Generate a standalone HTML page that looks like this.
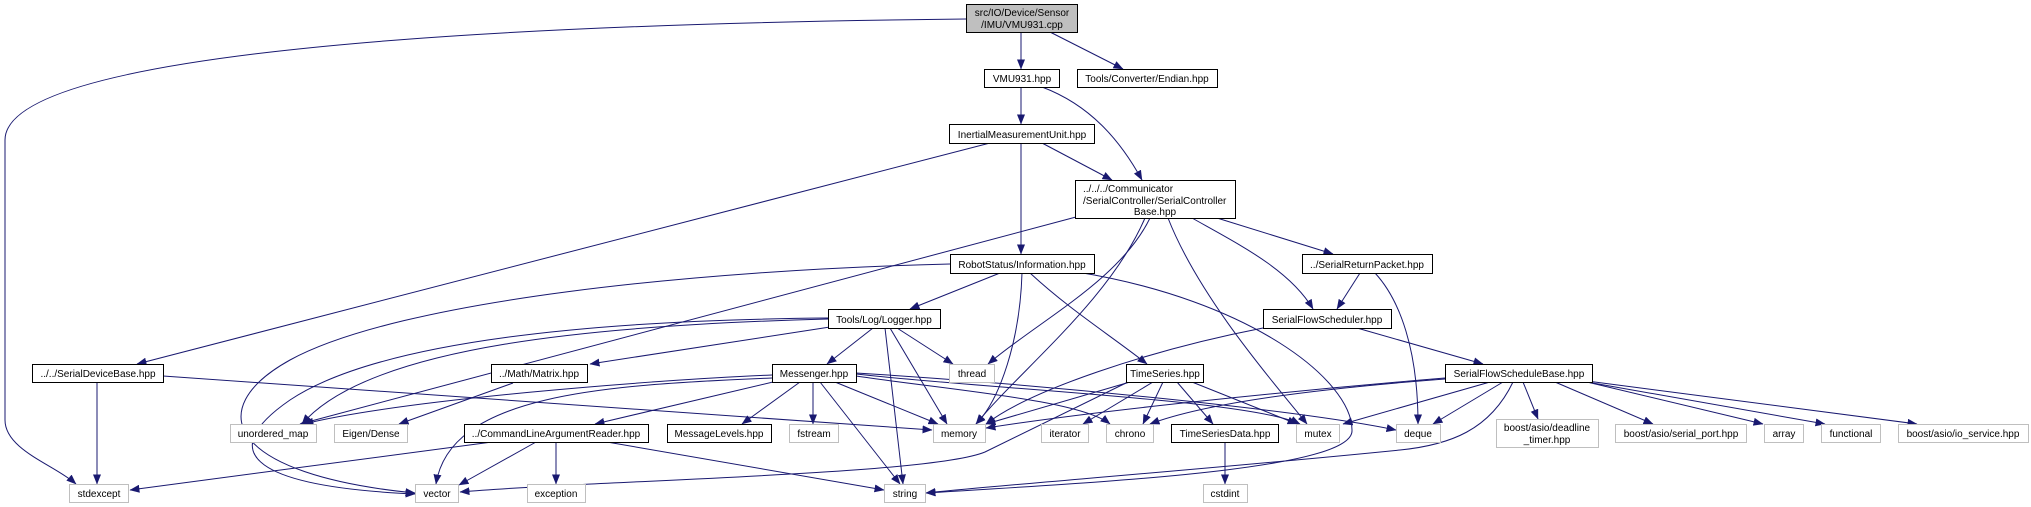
<!DOCTYPE html>
<html><head><meta charset="utf-8"><style>
html,body{margin:0;padding:0;background:#fff;}
svg{display:block;}
text{font-family:"Liberation Sans",Arial,sans-serif;font-size:10px;fill:#000;}
.e{fill:none;stroke:#191970;stroke-width:1;marker-end:url(#a);}
.b{fill:#fff;stroke:#000;stroke-width:1;}
.g{fill:#fff;stroke:#bfbfbf;stroke-width:1;}
</style></head><body>
<svg width="2031" height="507" viewBox="0 0 2031 507" xmlns="http://www.w3.org/2000/svg">
<defs><marker id="a" markerUnits="userSpaceOnUse" markerWidth="10" markerHeight="8" refX="9.5" refY="4" orient="auto"><path d="M0,0 L10,4 L0,8 z" fill="#191970"/></marker></defs>

<!-- edges -->
<path class="e" d="M966,19 C400,25 5,60 5,140 L5,420 C5,450 55,465 76,484"/>
<path class="e" d="M1021,32 L1021,69"/>
<path class="e" d="M1050,32 L1123,69"/>
<path class="e" d="M1021,87 L1021,124"/>
<path class="e" d="M1042,87 C1090,105 1120,140 1142,180"/>
<path class="e" d="M1042,143 L1112,180"/>
<path class="e" d="M1021,143 L1021,254"/>
<path class="e" d="M990,143 L137,364"/>
<path class="e" d="M1076,217 L300,424"/>
<path class="e" d="M1150,218 C1120,280 1040,320 988,364"/>
<path class="e" d="M1145,218 C1110,300 1020,370 976,424"/>
<path class="e" d="M1168,218 C1200,300 1280,390 1307,424"/>
<path class="e" d="M1192,218 C1240,245 1290,270 1313,309"/>
<path class="e" d="M1217,218 L1333,254"/>
<path class="e" d="M950,264 C700,270 400,300 290,360 C200,410 230,475 415,493"/>
<path class="e" d="M828,318 C600,320 380,340 290,400 C210,455 260,487 415,494"/>
<path class="e" d="M1000,273 L910,309"/>
<path class="e" d="M1022,273 C1020,340 1000,400 976,424"/>
<path class="e" d="M1030,273 C1070,310 1110,335 1147,364"/>
<path class="e" d="M1077,272 C1250,300 1352,380 1352,430 C1355,470 1100,482 926,493"/>
<path class="e" d="M828,319 C600,325 370,345 302,424"/>
<path class="e" d="M830,327 L590,364"/>
<path class="e" d="M873,328 L827,364"/>
<path class="e" d="M885,328 L903,484"/>
<path class="e" d="M890,328 L947,424"/>
<path class="e" d="M897,328 L953,364"/>
<path class="e" d="M97,382 L97,484"/>
<path class="e" d="M163,376 L932,430"/>
<path class="e" d="M513,383 L399,424"/>
<path class="e" d="M772,375 C650,380 400,400 304,424"/>
<path class="e" d="M772,378 C600,385 450,395 436,484"/>
<path class="e" d="M773,382 L595,424"/>
<path class="e" d="M800,382 L742,424"/>
<path class="e" d="M813,382 L813,424"/>
<path class="e" d="M820,382 L900,484"/>
<path class="e" d="M835,382 L938,424"/>
<path class="e" d="M856,376 C950,390 1080,400 1110,424"/>
<path class="e" d="M856,374 C1000,390 1250,400 1300,424"/>
<path class="e" d="M856,373 C1050,385 1300,410 1396,430"/>
<path class="e" d="M492,442 L130,490"/>
<path class="e" d="M536,442 L459,485"/>
<path class="e" d="M556,442 L556,484"/>
<path class="e" d="M607,442 L884,490"/>
<path class="e" d="M1130,382 L986,424"/>
<path class="e" d="M1128,382 C1050,420 1010,440 985,452 C930,475 600,480 460,492"/>
<path class="e" d="M1153,382 L1083,424"/>
<path class="e" d="M1163,382 L1143,424"/>
<path class="e" d="M1177,382 L1213,424"/>
<path class="e" d="M1192,382 L1297,424"/>
<path class="e" d="M1225,442 L1225,484"/>
<path class="e" d="M1360,273 L1337,309"/>
<path class="e" d="M1375,273 C1400,300 1418,350 1418,424"/>
<path class="e" d="M1263,328 C1150,350 1030,390 986,424"/>
<path class="e" d="M1357,328 L1483,364"/>
<path class="e" d="M1445,378 C1300,390 1100,410 986,428"/>
<path class="e" d="M1445,379 C1300,390 1200,405 1150,424"/>
<path class="e" d="M1490,382 L1343,424"/>
<path class="e" d="M1503,382 L1433,424"/>
<path class="e" d="M1513,382 C1490,430 1450,445 1400,450 C1200,470 1000,485 926,493"/>
<path class="e" d="M1523,382 L1538,419"/>
<path class="e" d="M1555,382 L1653,424"/>
<path class="e" d="M1587,382 L1763,424"/>
<path class="e" d="M1587,382 L1825,424"/>
<path class="e" d="M1587,381 L1917,424"/>

<!-- nodes -->
<rect x="966.5" y="4.5" width="111" height="28" fill="#bfbfbf" stroke="#000"/>
<text x="1022" y="16" text-anchor="middle">src/IO/Device/Sensor</text>
<text x="1022" y="28" text-anchor="middle">/IMU/VMU931.cpp</text>

<rect class="b" x="984.5" y="69.5" width="75" height="18"/><text x="1022" y="82" text-anchor="middle">VMU931.hpp</text>
<rect class="b" x="1077.5" y="69.5" width="140" height="18"/><text x="1147" y="82" text-anchor="middle">Tools/Converter/Endian.hpp</text>
<rect class="b" x="949.5" y="124.5" width="145" height="19"/><text x="1022" y="138" text-anchor="middle">InertialMeasurementUnit.hpp</text>

<rect class="b" x="1075.5" y="180.5" width="160" height="38"/>
<text x="1083" y="192">../../../Communicator</text>
<text x="1083" y="204">/SerialController/SerialController</text>
<text x="1155" y="215" text-anchor="middle">Base.hpp</text>

<rect class="b" x="950.5" y="254.5" width="144" height="19"/><text x="1022" y="268" text-anchor="middle">RobotStatus/Information.hpp</text>
<rect class="b" x="1302.5" y="254.5" width="130" height="19"/><text x="1367" y="268" text-anchor="middle">../SerialReturnPacket.hpp</text>
<rect class="b" x="828.5" y="309.5" width="112" height="19"/><text x="884" y="323" text-anchor="middle">Tools/Log/Logger.hpp</text>
<rect class="b" x="1263.5" y="309.5" width="128" height="19"/><text x="1327" y="323" text-anchor="middle">SerialFlowScheduler.hpp</text>

<rect class="b" x="32.5" y="364.5" width="131" height="18"/><text x="98" y="377" text-anchor="middle">../../SerialDeviceBase.hpp</text>
<rect class="b" x="491.5" y="364.5" width="96" height="18"/><text x="539" y="377" text-anchor="middle">../Math/Matrix.hpp</text>
<rect class="b" x="772.5" y="364.5" width="84" height="18"/><text x="814" y="377" text-anchor="middle">Messenger.hpp</text>
<rect class="g" x="949.5" y="364.5" width="45" height="18"/><text x="972" y="377" text-anchor="middle">thread</text>
<rect class="b" x="1126.5" y="364.5" width="77" height="18"/><text x="1165" y="377" text-anchor="middle">TimeSeries.hpp</text>
<rect class="b" x="1445.5" y="364.5" width="147" height="18"/><text x="1519" y="377" text-anchor="middle">SerialFlowScheduleBase.hpp</text>

<rect class="g" x="230.5" y="424.5" width="86" height="18"/><text x="273" y="437" text-anchor="middle">unordered_map</text>
<rect class="g" x="334.5" y="424.5" width="73" height="18"/><text x="371" y="437" text-anchor="middle">Eigen/Dense</text>
<rect class="b" x="464.5" y="424.5" width="184" height="18"/><text x="556" y="437" text-anchor="middle">../CommandLineArgumentReader.hpp</text>
<rect class="b" x="667.5" y="424.5" width="104" height="18"/><text x="719" y="437" text-anchor="middle">MessageLevels.hpp</text>
<rect class="g" x="789.5" y="424.5" width="49" height="18"/><text x="814" y="437" text-anchor="middle">fstream</text>
<rect class="g" x="933.5" y="424.5" width="52" height="18"/><text x="959" y="437" text-anchor="middle">memory</text>
<rect class="g" x="1041.5" y="424.5" width="47" height="18"/><text x="1065" y="437" text-anchor="middle">iterator</text>
<rect class="g" x="1106.5" y="424.5" width="47" height="18"/><text x="1130" y="437" text-anchor="middle">chrono</text>
<rect class="b" x="1171.5" y="424.5" width="107" height="18"/><text x="1225" y="437" text-anchor="middle">TimeSeriesData.hpp</text>
<rect class="g" x="1296.5" y="424.5" width="43" height="18"/><text x="1318" y="437" text-anchor="middle">mutex</text>
<rect class="g" x="1396.5" y="424.5" width="44" height="18"/><text x="1418" y="437" text-anchor="middle">deque</text>
<rect class="g" x="1496.5" y="419.5" width="102" height="28"/>
<text x="1547" y="431" text-anchor="middle">boost/asio/deadline</text>
<text x="1547" y="443" text-anchor="middle">_timer.hpp</text>
<rect class="g" x="1615.5" y="424.5" width="131" height="18"/><text x="1681" y="437" text-anchor="middle">boost/asio/serial_port.hpp</text>
<rect class="g" x="1764.5" y="424.5" width="39" height="18"/><text x="1784" y="437" text-anchor="middle">array</text>
<rect class="g" x="1821.5" y="424.5" width="59" height="18"/><text x="1851" y="437" text-anchor="middle">functional</text>
<rect class="g" x="1898.5" y="424.5" width="130" height="18"/><text x="1963" y="437" text-anchor="middle">boost/asio/io_service.hpp</text>

<rect class="g" x="69.5" y="484.5" width="59" height="18"/><text x="99" y="497" text-anchor="middle">stdexcept</text>
<rect class="g" x="415.5" y="484.5" width="43" height="18"/><text x="437" y="497" text-anchor="middle">vector</text>
<rect class="g" x="527.5" y="484.5" width="58" height="18"/><text x="556" y="497" text-anchor="middle">exception</text>
<rect class="g" x="884.5" y="484.5" width="41" height="18"/><text x="905" y="497" text-anchor="middle">string</text>
<rect class="g" x="1203.5" y="484.5" width="44" height="18"/><text x="1225" y="497" text-anchor="middle">cstdint</text>
</svg>
</body></html>
